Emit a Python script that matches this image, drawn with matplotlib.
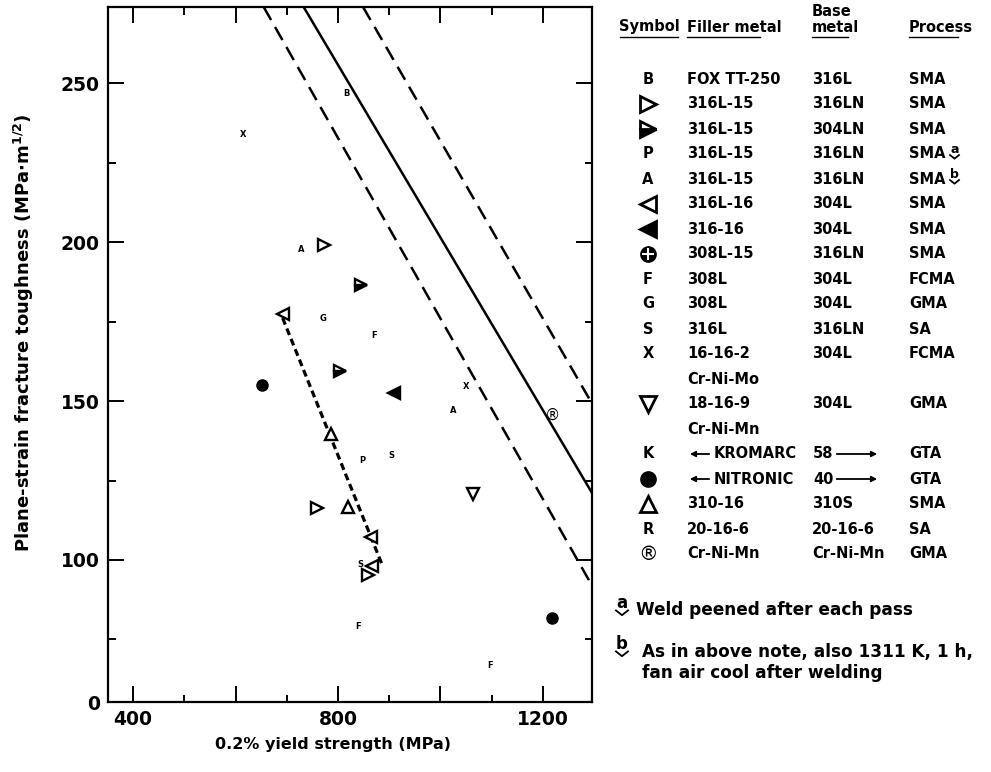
import matplotlib
matplotlib.use('Agg')
import matplotlib.pyplot as plt

plt.rcParams['font.family'] = ['DejaVu Sans']
plt.rcParams['font.weight'] = 'bold'

# ---------------- data (yield strength MPa, K_Ic MPa*m^1/2) ----------------
open_right_x = [772, 760, 858]
open_right_y = [199.2, 116.4, 95.2]
half_right_x = [845, 804.5]
half_right_y = [186.4, 159.5]
open_left_x = [692, 865, 866]
open_left_y = [177.5, 107.3, 98.2]
filled_left_x = [910]
filled_left_y = [152.6]
open_down_x = [1064]
open_down_y = [120.7]
circle_x = [652, 1218]
circle_y = [155.2, 81.6]
open_up_x = [786, 819]
open_up_y = [139.6, 116.7]
circR_x = [1219]
circR_y = [145.5]
letter_labels = ['B', 'A', 'G', 'F', 'P', 'S', 'S', 'F', 'F', 'X', 'X', 'A']
letter_x = [816, 729, 771, 871, 848.5, 904, 844, 839, 1097, 614, 1051, 1025]
letter_y = [246.7, 197.7, 176.1, 170.7, 131.4, 133, 98.6, 79.2, 66.7, 233.9, 154.7, 147.1]

solid_x = [733, 1300]
solid_y = [274, 120]
dash_lo_x = [655, 1300]
dash_lo_y = [274, 90.8]
dash_hi_x = [849, 1300]
dash_hi_y = [274, 148.1]
trend_x = [692, 888]
trend_y = [176.1, 97.8]

x_major = [400, 600, 800, 1000, 1200]
x_major_labels = ['400', '', '800', '', '1200']
x_minor = [500, 700, 900, 1100]
y_major = [100, 150, 200, 250]
y_minor = [75, 125, 175, 225]

legend_symbols = ['B', 'oright', 'hright', 'P', 'A', 'oleft', 'fleft', 'oplus', 'F', 'G', 'S', 'X',
                  '', 'odown', '', 'K', 'circle', 'oup', 'R', 'circR']
legend_filler = ['FOX TT-250', '316L-15', '316L-15', '316L-15', '316L-15', '316L-16', '316-16',
                 '308L-15', '308L', '308L', '316L', '16-16-2', 'Cr-Ni-Mo', '18-16-9', 'Cr-Ni-Mn',
                 'KROMARC', 'NITRONIC', '310-16', '20-16-6', 'Cr-Ni-Mn']
legend_base = ['316L', '316LN', '304LN', '316LN', '316LN', '304L', '304L', '316LN', '304L', '304L',
               '316LN', '304L', '', '304L', '', '58', '40', '310S', '20-16-6', 'Cr-Ni-Mn']
legend_process = ['SMA', 'SMA', 'SMA', 'SMA', 'SMA', 'SMA', 'SMA', 'SMA', 'FCMA', 'GMA', 'SA', 'FCMA',
                  '', 'GMA', '', 'GTA', 'GTA', 'SMA', 'SA', 'GMA']
legend_notes = {3: 'a', 4: 'b'}

# ---------------- figure ----------------
W, H = 991, 772
fig = plt.figure(figsize=(W / 100, H / 100), dpi=100)


def fx(px):
    return px / W


def fy(py):
    return 1 - py / H


L, R, T, B = 108, 592, 7, 702
ax = fig.add_axes([fx(L), fy(B), (R - L) / W, (B - T) / H])
XMIN, XMAX = 351, 1296
YMIN, YMAX = 55.3, 274
ax.set_xlim(XMIN, XMAX)
ax.set_ylim(YMIN, YMAX)

ax.plot(solid_x, solid_y, color='k', lw=1.8, solid_capstyle='butt')
ax.plot(dash_lo_x, dash_lo_y, color='k', lw=1.8, dashes=(6, 3.2))
ax.plot(dash_hi_x, dash_hi_y, color='k', lw=1.8, dashes=(6, 3.2))
ax.plot(trend_x, trend_y, color='k', lw=2.3, dashes=(2.2, 1.3))

mk = dict(ls='none', ms=8, mec='k', mew=1.7)
ax.plot(open_right_x, open_right_y, marker='>', mfc='white', **mk)
ax.plot(half_right_x, half_right_y, marker='>', mfc='k', fillstyle='bottom', mfcalt='white', **mk)
ax.plot(open_left_x, open_left_y, marker='<', mfc='white', **mk)
ax.plot(filled_left_x, filled_left_y, marker='<', mfc='k', **mk)
ax.plot(open_down_x, open_down_y, marker='v', mfc='white', **mk)
ax.plot(open_up_x, open_up_y, marker='^', mfc='white', **mk)
ax.plot(circle_x, circle_y, marker='o', mfc='k', ls='none', ms=8, mec='k')
for x, y in zip(circR_x, circR_y):
    ax.text(x, y, '\u00ae', ha='center', va='center', fontsize=11, fontweight='normal')
for s, x, y in zip(letter_labels, letter_x, letter_y):
    ax.text(x, y, s, ha='center', va='center', fontsize=6)

ax.set_xticks(x_major)
ax.set_xticklabels(x_major_labels)
ax.set_xticks(x_minor, minor=True)
ax.set_yticks([YMIN] + y_major)
ax.set_yticklabels(['0'] + [str(v) for v in y_major])
ax.set_yticks(y_minor, minor=True)
ax.tick_params(which='both', direction='in', top=True, right=True, width=1.4, labelsize=13.5)
ax.tick_params(which='major', length=11.5, pad=6)
ax.tick_params(which='minor', length=5.4)
for sp in ax.spines.values():
    sp.set_linewidth(1.6)

fig.text(fx(333), fy(745), '0.2% yield strength (MPa)', ha='center', va='center', fontsize=11.5)
fig.text(fx(24), fy(333), r'Plane-strain fracture toughness (MPa$\cdot$m$^{\mathbf{1/2}}$)',
         ha='center', va='center', rotation=90, fontsize=13)

# ---------------- legend table ----------------
lax = fig.add_axes([fx(600), 0, (W - 600) / W, 1])
lax.set_xlim(600, W)
lax.set_ylim(H, 0)
lax.axis('off')

CS, CF, CB, CP = 648, 687, 812, 909
fs = 10.5
lax.text(649, 27, 'Symbol', ha='center', va='center', fontsize=fs)
lax.text(CF, 27, 'Filler metal', ha='left', va='center', fontsize=fs)
lax.text(CB, 11, 'Base', ha='left', va='center', fontsize=fs)
lax.text(CB, 27, 'metal', ha='left', va='center', fontsize=fs)
lax.text(CP, 27, 'Process', ha='left', va='center', fontsize=fs)
for x0, x1 in [(620, 678), (CF, 760), (CB, 848), (CP, 958)]:
    lax.plot([x0, x1], [37, 37], color='k', lw=1.0)


def note_mark(x, y, ch, size):
    lax.text(x + size * 0.5, y - size * 0.15, ch, ha='center', va='center', fontsize=size)
    lax.plot([x, x + size * 0.5, x + size], [y + size * 0.45, y + size * 0.85, y + size * 0.45],
             color='k', lw=1.3)


lm = dict(ls='none', ms=11, mec='k', mew=2.0)
for i, (sym, fil, base, proc) in enumerate(zip(legend_symbols, legend_filler, legend_base, legend_process)):
    y = 79 + 25 * i
    if sym == 'oright':
        lax.plot(CS, y, marker='>', mfc='white', **lm)
    elif sym == 'hright':
        lax.plot(CS, y, marker='>', mfc='k', fillstyle='bottom', mfcalt='white', **lm)
    elif sym == 'oleft':
        lax.plot(CS, y, marker='<', mfc='white', **lm)
    elif sym == 'fleft':
        lax.plot(CS, y, marker='<', mfc='k', **lm)
    elif sym == 'odown':
        lax.plot(CS, y, marker='v', mfc='white', **lm)
    elif sym == 'oup':
        lax.plot(CS, y, marker='^', mfc='white', **lm)
    elif sym == 'circle':
        lax.plot(CS, y, marker='o', mfc='k', ls='none', ms=11, mec='k')
    elif sym == 'oplus':
        lax.plot(CS, y, marker='o', mfc='k', ls='none', ms=11, mec='k')
        lax.plot(CS, y, marker='+', ls='none', ms=8, mec='white', mew=1.5)
    elif sym == 'circR':
        lax.text(CS, y, '\u00ae', ha='center', va='center', fontsize=14, fontweight='normal')
    elif sym:
        lax.text(CS, y, sym, ha='center', va='center', fontsize=fs)

    if fil in ('KROMARC', 'NITRONIC'):
        lax.annotate('', xy=(CF, y), xytext=(CF + 25, y),
                     arrowprops=dict(arrowstyle='-|>', color='k', lw=1.3, mutation_scale=8))
        lax.text(CF + 27, y, fil, ha='left', va='center', fontsize=fs)
        lax.text(CB + 1, y, base, ha='left', va='center', fontsize=fs)
        lax.annotate('', xy=(CB + 68, y), xytext=(CB + 22, y),
                     arrowprops=dict(arrowstyle='-|>', color='k', lw=1.3, mutation_scale=8))
    else:
        lax.text(CF, y, fil, ha='left', va='center', fontsize=fs)
        if base:
            lax.text(CB, y, base, ha='left', va='center', fontsize=fs)
    if proc:
        lax.text(CP, y, proc, ha='left', va='center', fontsize=fs)
    if i in legend_notes:
        note_mark(CP + 41, y - 3, legend_notes[i], 9)

# footnotes
note_mark(616, 605, 'a', 12)
lax.text(636, 610, 'Weld peened after each pass', ha='left', va='center', fontsize=12.2)
note_mark(616, 646, 'b', 12)
lax.text(642, 652, 'As in above note, also 1311 K, 1 h,', ha='left', va='center', fontsize=12.2)
lax.text(642, 673, 'fan air cool after welding', ha='left', va='center', fontsize=12.2)

fig.savefig('out.png', dpi=100)
